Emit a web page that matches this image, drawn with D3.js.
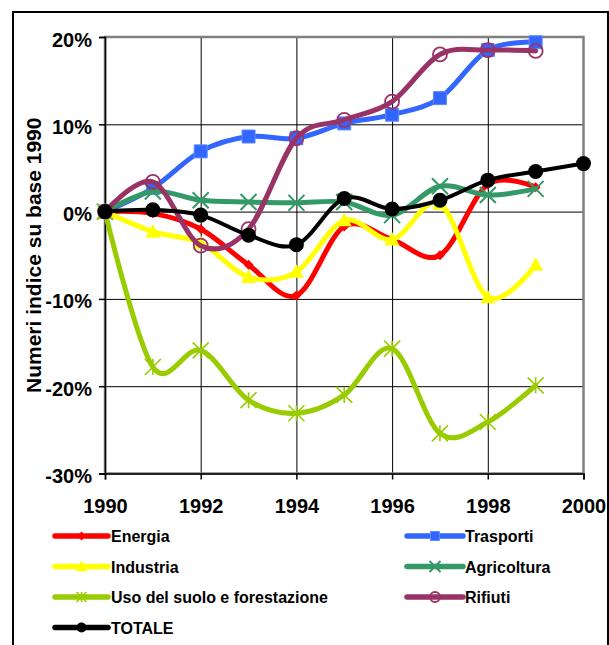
<!DOCTYPE html>
<html><head><meta charset="utf-8">
<script src="https://cdn.jsdelivr.net/npm/d3@7"></script>
<style>
html,body{margin:0;padding:0;background:#fff;}
svg{display:block;font-family:"Liberation Sans",Arial,sans-serif;font-weight:bold;}
</style></head>
<body>
<svg id="chart" width="609" height="645"></svg>
<script>
const years = [1990,1991,1992,1993,1994,1995,1996,1997,1998,1999,2000];
const energia     = [0, -0.2, -2.0, -6.1, -9.6, -1.7, -3.2, -5.0, 3.1, 2.8];
const trasporti   = [0, 2.7, 6.9, 8.6, 8.4, 10.1, 11.1, 13.0, 18.5, 19.4];
const industria   = [0, -2.3, -3.6, -7.5, -6.9, -1.0, -3.2, 0.9, -9.8, -6.1];
const agricoltura = [0, 2.3, 1.3, 1.1, 1.0, 1.1, -0.4, 2.9, 1.9, 2.6];
const uso         = [0, -17.8, -15.9, -21.6, -23.1, -21.0, -15.7, -25.4, -24.1, -19.9];
const rifiuti     = [0, 3.4, -3.9, -2.0, 8.4, 10.5, 12.6, 18.0, 18.5, 18.4];
const totale      = [0, 0.2, -0.4, -2.7, -3.8, 1.5, 0.3, 1.3, 3.6, 4.6, 5.5];
const seriesNames = ["Energia","Trasporti","Industria","Agricoltura","Uso del suolo e forestazione","Rifiuti","TOTALE"];
const yTicks = [-30,-20,-10,0,10,20];
const xTicks = [1990,1992,1994,1996,1998,2000];
const yTitle = "Numeri indice su base 1990";

const series = [
  {name:seriesNames[0], values:energia, color:"#FF0000", marker:"diamond", size:10, lw:5},
  {name:seriesNames[1], values:trasporti, color:"#3366FF", marker:"square", size:13, lw:5},
  {name:seriesNames[2], values:industria, color:"#FFFF00", marker:"triangle", size:15, lw:5},
  {name:seriesNames[3], values:agricoltura, color:"#339966", marker:"x", size:16, lw:5},
  {name:seriesNames[4], values:uso, color:"#99CC00", marker:"star", size:16, lw:5},
  {name:seriesNames[5], values:rifiuti, color:"#993366", marker:"ocircle", size:14, lw:5},
  {name:seriesNames[6], values:totale, color:"#000000", marker:"circle", size:15, lw:4}
];

const svg = d3.select("#chart");
const L = 105, R = 583.5, T = 37, B = 473.5;
const x = d3.scaleLinear().domain([1990,2000]).range([L,R]);
const y = d3.scaleLinear().domain([-30,20]).range([B,T]);

// outer border
svg.append("rect").attr("x",13).attr("y",12).attr("width",595).attr("height",660)
  .attr("fill","none").attr("stroke","#000").attr("stroke-width",2);

// grid
const grid = svg.append("g");
grid.append("g").attr("transform",`translate(0,${B})`)
  .call(d3.axisBottom(x).tickValues(xTicks.slice(1,-1)).tickSize(-(B-T)).tickFormat(""))
  .call(g=>{g.select(".domain").remove(); g.selectAll("line").attr("stroke","#000").attr("stroke-width",1);});
grid.append("g").attr("transform",`translate(${L},0)`)
  .call(d3.axisLeft(y).tickValues(yTicks.slice(1,-1)).tickSize(-(R-L)).tickFormat(""))
  .call(g=>{g.select(".domain").remove(); g.selectAll("line").attr("stroke","#000").attr("stroke-width",1);});
// plot border (grey)
svg.append("rect").attr("x",L).attr("y",T).attr("width",R-L).attr("height",B-T)
  .attr("fill","none").attr("stroke","#808080").attr("stroke-width",2.5);

// axes
const yAx = svg.append("g").attr("transform",`translate(${L},0)`)
  .call(d3.axisLeft(y).tickValues(yTicks).tickSize(6).tickPadding(7).tickFormat(d=>d+"%"));
yAx.select(".domain").attr("stroke","#000").attr("stroke-width",1.5);
yAx.selectAll("line").attr("stroke","#000").attr("stroke-width",1.5);
yAx.selectAll("text").attr("font-size",20).attr("font-weight","bold").attr("fill","#000")
  .attr("font-family","Liberation Sans, Arial, sans-serif").attr("dy","0.45em");

const xAx = svg.append("g").attr("transform",`translate(0,${B})`)
  .call(d3.axisBottom(x).tickValues(xTicks).tickSize(6).tickPadding(19).tickFormat(d3.format("d")));
xAx.select(".domain").attr("stroke","#000").attr("stroke-width",1.5);
xAx.selectAll("line").attr("stroke","#000").attr("stroke-width",1.5);
xAx.selectAll("text").attr("font-size",20).attr("font-weight","bold").attr("fill","#000")
  .attr("font-family","Liberation Sans, Arial, sans-serif");

svg.append("text").attr("transform",`translate(41,${(T+B)/2}) rotate(-90)`)
  .attr("text-anchor","middle").attr("font-size",21).attr("fill","#000").text(yTitle);

// marker paths
function markerPath(type, s){
  const h = s/2;
  switch(type){
    case "square": return `M${-h},${-h}H${h}V${h}H${-h}Z`;
    case "diamond": return `M0,${-h}L${h},0L0,${h}L${-h},0Z`;
    case "triangle": return `M0,${-h}L${h},${h*0.8}L${-h},${h*0.8}Z`;
    case "x": return `M${-h},${-h}L${h},${h}M${h},${-h}L${-h},${h}`;
    case "star": return `M${-h},${-h}L${h},${h}M${h},${-h}L${-h},${h}M0,${-h}L0,${h}`;
    case "circle": case "ocircle":
      return `M${h},0A${h},${h} 0 1,1 ${-h},0A${h},${h} 0 1,1 ${h},0Z`;
  }
}
function styleMarker(sel, s){
  if(s.marker==="x"||s.marker==="star"){
    sel.attr("fill","none").attr("stroke",s.color).attr("stroke-width",s.marker==="x"?2:1.6);
  } else if(s.marker==="ocircle"){
    sel.attr("fill","none").attr("stroke",s.color).attr("stroke-width",1.8);
  } else if(s.marker==="square"){
    sel.attr("fill",s.color).attr("stroke","#5C8AFF").attr("stroke-width",1);
  } else {
    sel.attr("fill",s.color).attr("stroke","none");
  }
}

const line = d3.line().x((d,i)=>x(years[i])).y(d=>y(d)).curve(d3.curveCatmullRom.alpha(0));
const plot = svg.append("g");
series.forEach(s=>{
  const g = plot.append("g");
  g.append("path").datum(s.values).attr("d",line).attr("fill","none")
    .attr("stroke",s.color).attr("stroke-width",s.lw).attr("stroke-linejoin","round").attr("stroke-linecap","round");
  g.selectAll("path.m").data(s.values).join("path").attr("class","m")
    .attr("transform",(d,i)=>`translate(${x(years[i])},${y(d)})`)
    .attr("d",markerPath(s.marker,s.size))
    .call(sel=>styleMarker(sel,s));
});

// legend
const rowsY = [536, 566.5, 597, 627.5];
const legPos = [
  {x1:55,x2:108,tx:111,row:0},{x1:407,x2:463,tx:465,row:0},
  {x1:55,x2:108,tx:111,row:1},{x1:407,x2:463,tx:465,row:1},
  {x1:55,x2:108,tx:111,row:2},{x1:407,x2:463,tx:465,row:2},
  {x1:55,x2:108,tx:111,row:3}
];
const legSizes = {diamond:9, square:9, triangle:12, x:11, star:10, ocircle:10, circle:10};
series.forEach((s,i)=>{
  const p = legPos[i], yy = rowsY[p.row];
  const g = svg.append("g");
  g.append("line").attr("x1",p.x1).attr("x2",p.x2).attr("y1",yy).attr("y2",yy)
    .attr("stroke",s.color).attr("stroke-width",5.5).attr("stroke-linecap","round");
  g.append("path").attr("transform",`translate(${(p.x1+p.x2)/2},${yy})`)
    .attr("d",markerPath(s.marker,legSizes[s.marker]))
    .call(sel=>styleMarker(sel,s));
  g.append("text").attr("x",p.tx).attr("y",yy+6).attr("font-size",16).attr("fill","#000").text(s.name);
});
</script>
</body></html>
